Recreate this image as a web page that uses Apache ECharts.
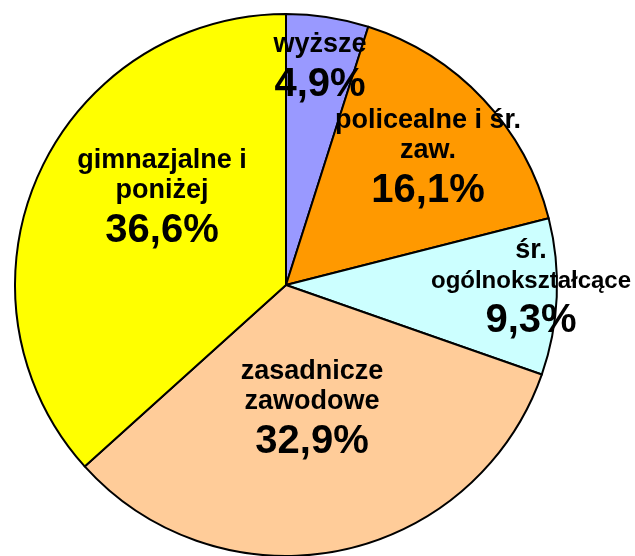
<!DOCTYPE html>
<html>
<head>
<meta charset="utf-8">
<script src="https://cdn.jsdelivr.net/npm/echarts@6/dist/echarts.min.js"></script>
<style>
  html, body { margin: 0; padding: 0; background: #fff; }
  #chart { width: 635px; height: 556px; }
</style>
</head>
<body>
<div id="chart"></div>
<script>
  // dane
  var categories = ['wyższe', 'policealne i śr.\nzaw.', 'śr.\nogólnokształcące', 'zasadnicze\nzawodowe', 'gimnazjalne i\nponiżej']
  var shares = [4.9, 16.1, 9.3, 32.9, 36.6]
  var colors = ['#9999FF', '#FF9900', '#CCFFFF', '#FFCC99', '#FFFF00']
  // środki etykiet (ręczne ułożenie jak w oryginale)
  var labelPos = [[320, 70], [428, 161], [531, 291], [312, 412], [162, 201]]
  // dłuższa linia wpisana mniejszą czcionką
  var smallLines = ['ogólnokształcące']

  var font = 'Liberation Sans, Arial, sans-serif'
  var ec = echarts.init(document.getElementById('chart'))
  ec.setOption({
    animation: false,
    series: [
      {
        type: 'pie',
        center: [286, 285],
        radius: 271,
        startAngle: 90,
        clockwise: true,
        itemStyle: {
          borderColor: '#000',
          borderWidth: 2
        },
        label: {
          show: true,
          position: 'inside',
          align: 'center',
          color: '#000',
          fontFamily: font,
          fontWeight: 'bold',
          formatter: function (p) {
            var lines = p.name.split('\n').map(function (s) {
              return (smallLines.indexOf(s) >= 0 ? '{s|' : '{n|') + s + '}'
            })
            return lines.join('\n') + '\n{p|' + String(p.value).replace('.', ',') + '%}'
          },
          rich: {
            n: { fontSize: 27, lineHeight: 30, fontWeight: 'bold', fontFamily: font, color: '#000' },
            s: { fontSize: 24, lineHeight: 30, fontWeight: 'bold', fontFamily: font, color: '#000' },
            p: { fontSize: 40, lineHeight: 50, fontWeight: 'bold', fontFamily: font, color: '#000' }
          }
        },
        labelLine: { show: false },
        labelLayout: function (params) {
          var pos = labelPos[params.dataIndex]
          return { x: pos[0], y: pos[1], align: 'center', verticalAlign: 'middle' }
        },
        data: categories.map(function (c, i) {
          return { name: c, value: shares[i], itemStyle: { color: colors[i] } }
        })
      }
    ]
  })
</script>
</body>
</html>
